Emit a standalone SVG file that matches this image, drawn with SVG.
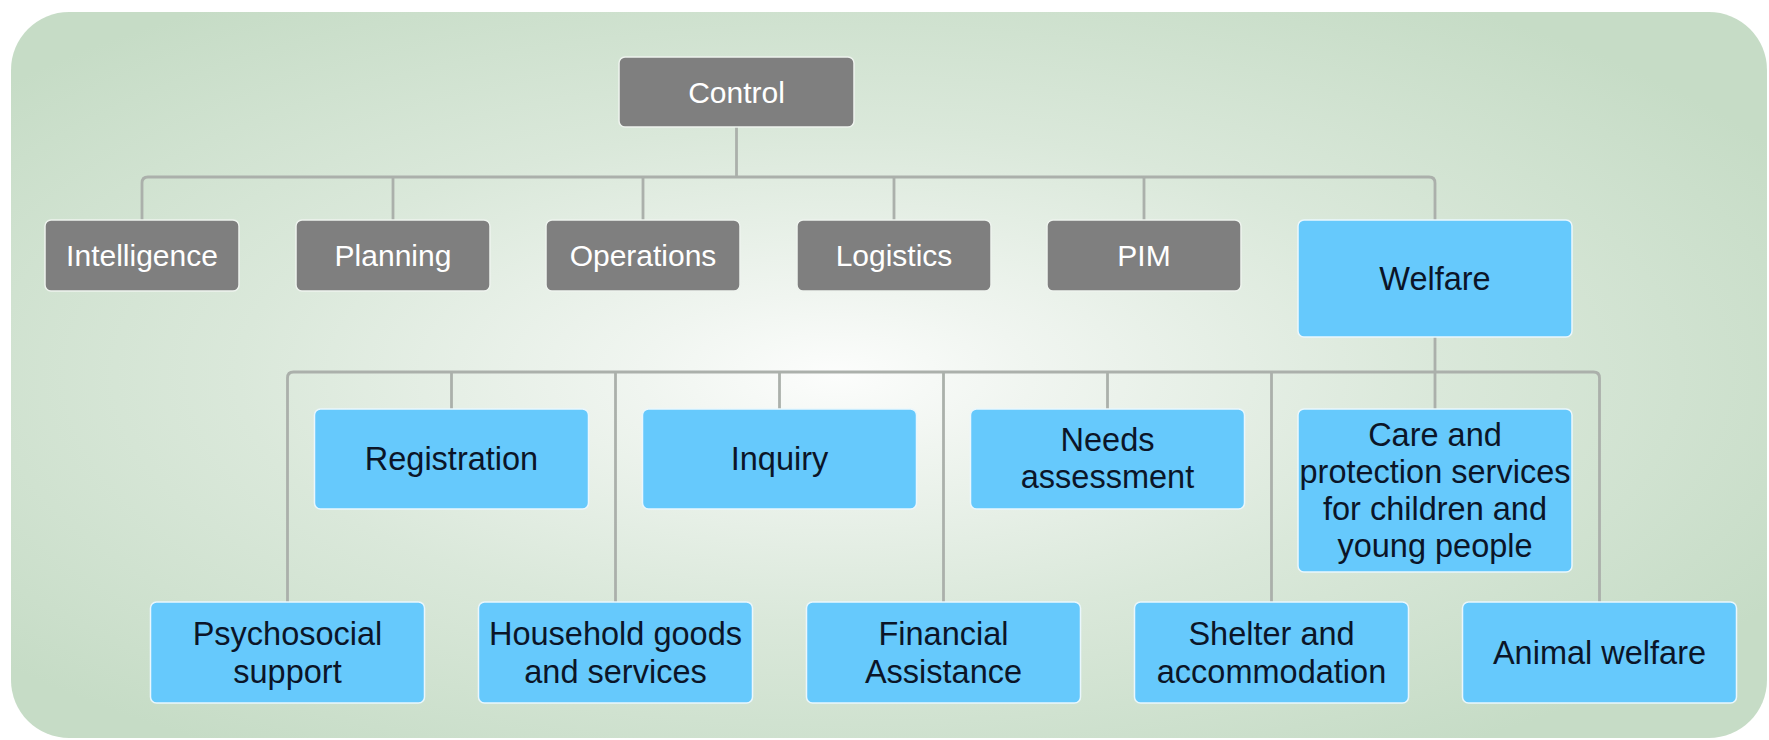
<svg xmlns="http://www.w3.org/2000/svg" width="1769" height="740" viewBox="0 0 1769 740">
  <defs>
    <radialGradient id="bgGrad" cx="0.47" cy="0.5" r="0.62" fx="0.47" fy="0.5">
      <stop offset="0" stop-color="#fcfdfc"/>
      <stop offset="0.18" stop-color="#f0f5f0"/>
      <stop offset="0.55" stop-color="#dae8da"/>
      <stop offset="1" stop-color="#c6dcc6"/>
    </radialGradient>
    <style>
      .gray rect { fill: #7f7f7f; stroke: #eef3ee; stroke-width: 1.5; }
      .blue rect { fill: #66c9fc; stroke: #eaf7fd; stroke-width: 1.5; }
      .gray text { fill: #ffffff; font-family: "Liberation Sans", Arial, sans-serif; font-size: 30px; text-anchor: middle; }
      .blue text { fill: #0b1528; font-family: "Liberation Sans", Arial, sans-serif; font-size: 32.5px; text-anchor: middle; }
      #connectors path { fill: none; stroke: #abb0ab; stroke-width: 2.8; stroke-linejoin: round; }
    </style>
  </defs>

  <!-- backdrop panel -->
  <rect x="11" y="12" width="1756" height="726" rx="58" ry="58" fill="url(#bgGrad)"/>

  <!-- connectors -->
  <g id="connectors">
    <path d="M736.5,127 V177"/>
    <path d="M142,220 V183 Q142,177 148,177 H1429 Q1435,177 1435,183 V220"/>
    <path d="M393,177 V220"/>
    <path d="M643,177 V220"/>
    <path d="M894,177 V220"/>
    <path d="M1144,177 V220"/>
    <path d="M1435,337 V409"/>
    <path d="M287.5,602 V378 Q287.5,372 293.5,372 H1593.5 Q1599.5,372 1599.5,378 V602"/>
    <path d="M451.5,372 V409"/>
    <path d="M615.5,372 V602"/>
    <path d="M779.5,372 V409"/>
    <path d="M943.5,372 V602"/>
    <path d="M1107.5,372 V409"/>
    <path d="M1271.5,372 V602"/>
  </g>

  <!-- top level -->
  <g id="control" class="gray">
    <rect x="619" y="57" width="235" height="70" rx="6"/>
    <text x="736.5" y="102.5">Control</text>
  </g>

  <!-- second level -->
  <g id="intelligence" class="gray">
    <rect x="45" y="220" width="194" height="71" rx="6"/>
    <text x="142" y="266">Intelligence</text>
  </g>
  <g id="planning" class="gray">
    <rect x="296" y="220" width="194" height="71" rx="6"/>
    <text x="393" y="266">Planning</text>
  </g>
  <g id="operations" class="gray">
    <rect x="546" y="220" width="194" height="71" rx="6"/>
    <text x="643" y="266">Operations</text>
  </g>
  <g id="logistics" class="gray">
    <rect x="797" y="220" width="194" height="71" rx="6"/>
    <text x="894" y="266">Logistics</text>
  </g>
  <g id="pim" class="gray">
    <rect x="1047" y="220" width="194" height="71" rx="6"/>
    <text x="1144" y="266">PIM</text>
  </g>
  <g id="welfare" class="blue">
    <rect x="1298" y="220" width="274" height="117" rx="6"/>
    <text x="1435" y="290">Welfare</text>
  </g>

  <!-- welfare functions, upper row -->
  <g id="registration" class="blue">
    <rect x="314.5" y="409" width="274" height="100" rx="6"/>
    <text x="451.5" y="470">Registration</text>
  </g>
  <g id="inquiry" class="blue">
    <rect x="642.5" y="409" width="274" height="100" rx="6"/>
    <text x="779.5" y="470">Inquiry</text>
  </g>
  <g id="needs-assessment" class="blue">
    <rect x="970.5" y="409" width="274" height="100" rx="6"/>
    <text x="1107.5" y="451">Needs</text>
    <text x="1107.5" y="488">assessment</text>
  </g>
  <g id="care-protection" class="blue">
    <rect x="1298" y="409" width="274" height="163" rx="6"/>
    <text x="1435" y="446">Care and</text>
    <text x="1435" y="483">protection services</text>
    <text x="1435" y="520">for children and</text>
    <text x="1435" y="557">young people</text>
  </g>

  <!-- welfare functions, lower row -->
  <g id="psychosocial" class="blue">
    <rect x="150.5" y="602" width="274" height="101" rx="6"/>
    <text x="287.5" y="645">Psychosocial</text>
    <text x="287.5" y="683">support</text>
  </g>
  <g id="household" class="blue">
    <rect x="478.5" y="602" width="274" height="101" rx="6"/>
    <text x="615.5" y="645">Household goods</text>
    <text x="615.5" y="683">and services</text>
  </g>
  <g id="financial" class="blue">
    <rect x="806.5" y="602" width="274" height="101" rx="6"/>
    <text x="943.5" y="645">Financial</text>
    <text x="943.5" y="683">Assistance</text>
  </g>
  <g id="shelter" class="blue">
    <rect x="1134.5" y="602" width="274" height="101" rx="6"/>
    <text x="1271.5" y="645">Shelter and</text>
    <text x="1271.5" y="683">accommodation</text>
  </g>
  <g id="animal-welfare" class="blue">
    <rect x="1462.5" y="602" width="274" height="101" rx="6"/>
    <text x="1599.5" y="664">Animal welfare</text>
  </g>
</svg>
